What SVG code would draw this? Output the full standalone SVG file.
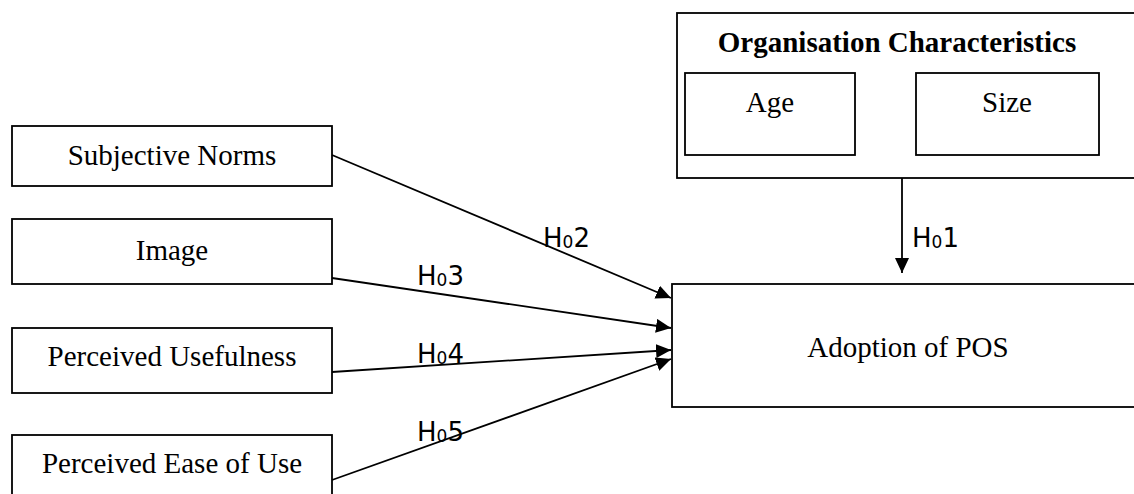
<svg xmlns="http://www.w3.org/2000/svg" width="1134" height="494" viewBox="0 0 1134 494">
<style>
.box{fill:#fff;stroke:#000;stroke-width:1.8}
.t{font-family:"Liberation Serif","Times New Roman",serif;font-size:29px;fill:#000;text-anchor:middle}
.b{font-weight:bold}
.lbl{font-family:"DejaVu Sans",sans-serif;font-size:26px;fill:#000}
.sub{font-size:17px}
.c{stroke:#000;stroke-width:1.8;fill:none;marker-end:url(#ah)}
</style>
<defs>
<marker id="ah" markerUnits="userSpaceOnUse" markerWidth="16" markerHeight="14" refX="15" refY="7" orient="auto">
<path d="M0,0 L15,7 L0,14 Z" fill="#000"/>
</marker>
</defs>
<rect width="1134" height="494" fill="#fff"/>
<g id="org">
<rect class="box" x="677" y="13" width="470" height="165"/>
<text class="t b" x="897" y="52">Organisation Characteristics</text>
</g>
<g id="age">
<rect class="box" x="685" y="73" width="170" height="82"/>
<text class="t" x="770" y="112">Age</text>
</g>
<g id="size">
<rect class="box" x="916" y="73" width="183" height="82"/>
<text class="t" x="1007" y="112">Size</text>
</g>
<g id="sn">
<rect class="box" x="12" y="126" width="320" height="60"/>
<text class="t" x="172" y="165">Subjective Norms</text>
</g>
<g id="img">
<rect class="box" x="12" y="219" width="320" height="65"/>
<text class="t" x="172" y="260">Image</text>
</g>
<g id="pu">
<rect class="box" x="12" y="328" width="320" height="65"/>
<text class="t" x="172" y="366">Perceived Usefulness</text>
</g>
<g id="peou">
<rect class="box" x="12" y="435" width="320" height="70"/>
<text class="t" x="172" y="473">Perceived Ease of Use</text>
</g>
<g id="adopt">
<rect class="box" x="672" y="284" width="475" height="123"/>
<text class="t" x="908" y="357">Adoption of POS</text>
</g>
<g id="connectors">
<line class="c" x1="902" y1="178" x2="902" y2="273"/>
<line class="c" x1="332" y1="155" x2="671" y2="298"/>
<line class="c" x1="332" y1="278" x2="671" y2="328"/>
<line class="c" x1="332" y1="372" x2="671" y2="350"/>
<line class="c" x1="332" y1="480" x2="671" y2="359"/>
<text class="lbl" x="912" y="247">H<tspan class="sub" dy="1">0</tspan><tspan dy="-1">1</tspan></text>
<text class="lbl" x="543" y="247">H<tspan class="sub" dy="1">0</tspan><tspan dy="-1">2</tspan></text>
<text class="lbl" x="417" y="285">H<tspan class="sub" dy="1">0</tspan><tspan dy="-1">3</tspan></text>
<text class="lbl" x="417" y="363">H<tspan class="sub" dy="1">0</tspan><tspan dy="-1">4</tspan></text>
<text class="lbl" x="417" y="441">H<tspan class="sub" dy="1">0</tspan><tspan dy="-1">5</tspan></text>
</g>
</svg>
